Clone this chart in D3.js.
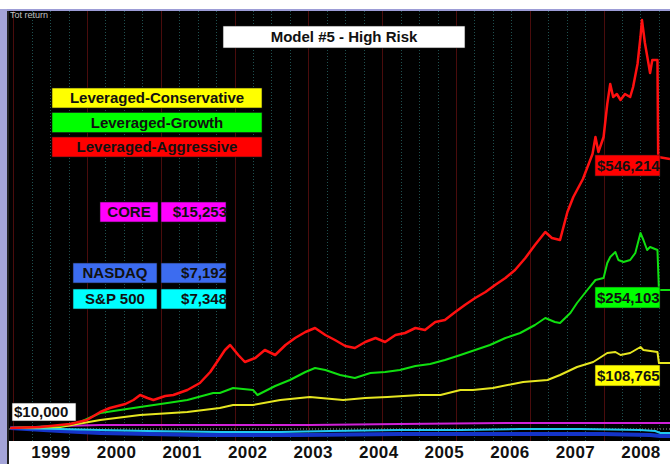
<!DOCTYPE html>
<html>
<head>
<meta charset="utf-8">
<script src="https://cdn.jsdelivr.net/npm/d3@7"></script>
<style>
html, body { margin: 0; padding: 0; background: #fff; }
svg { display: block; font-family: Arial, "Liberation Sans", sans-serif; }
</style>
</head>
<body>
<div id="chart"></div>
<script>
// decimal year, value in $k
const aggressive = [
    [1998.96, 16], [1999.37, 18], [1999.77, 24], [2000.00, 32], [2000.18, 48], [2000.31, 56],
    [2000.52, 64], [2000.63, 72], [2000.72, 82], [2000.82, 76], [2000.90, 72], [2001.06, 80],
    [2001.17, 82], [2001.36, 92], [2001.53, 106], [2001.67, 128], [2001.78, 152], [2001.87, 172],
    [2001.94, 182], [2002.05, 162], [2002.14, 148], [2002.28, 156], [2002.41, 172], [2002.55, 162],
    [2002.69, 182], [2002.82, 196], [2002.96, 208], [2003.09, 216], [2003.23, 202], [2003.36, 192],
    [2003.50, 180], [2003.63, 176], [2003.77, 188], [2003.91, 196], [2004.04, 188], [2004.18, 202],
    [2004.31, 206], [2004.45, 216], [2004.58, 212], [2004.72, 228], [2004.85, 232], [2004.99, 248],
    [2005.12, 262], [2005.26, 276], [2005.40, 288], [2005.53, 302], [2005.67, 316], [2005.80, 332],
    [2005.94, 356], [2006.07, 382], [2006.21, 408], [2006.30, 396], [2006.41, 392], [2006.51, 448],
    [2006.59, 478], [2006.72, 514], [2006.85, 564], [2006.89, 598], [2006.93, 568], [2007.00, 598],
    [2007.05, 664], [2007.09, 704], [2007.13, 678], [2007.18, 684], [2007.23, 672], [2007.29, 684],
    [2007.36, 678], [2007.40, 698], [2007.46, 744], [2007.50, 798], [2007.52, 832], [2007.56, 786],
    [2007.60, 752], [2007.63, 726], [2007.66, 752], [2007.73, 752], [2007.74, 558], [2007.90, 554]
];

const growth = [
    [1998.96, 16], [1999.64, 20], [1999.91, 28], [2000.18, 46], [2000.45, 52], [2000.72, 58],
    [2001.09, 66], [2001.36, 72], [2001.71, 86], [2001.80, 86], [2001.98, 96], [2002.25, 92],
    [2002.31, 82], [2002.55, 100], [2002.75, 112], [2002.96, 128], [2003.09, 136], [2003.23, 132],
    [2003.43, 122], [2003.63, 116], [2003.84, 126], [2004.04, 128], [2004.24, 132], [2004.45, 140],
    [2004.65, 144], [2004.85, 152], [2005.06, 162], [2005.26, 172], [2005.46, 182], [2005.67, 196],
    [2005.87, 206], [2006.07, 222], [2006.21, 236], [2006.34, 228], [2006.41, 226], [2006.55, 246],
    [2006.64, 266], [2006.78, 292], [2006.89, 312], [2007.00, 316], [2007.05, 346], [2007.09, 358],
    [2007.16, 368], [2007.20, 352], [2007.27, 348], [2007.36, 352], [2007.43, 366], [2007.50, 406],
    [2007.54, 392], [2007.59, 372], [2007.63, 378], [2007.73, 372], [2007.75, 292], [2007.90, 292]
];

const conservative = [
    [1998.96, 16], [1999.64, 18], [2000.18, 32], [2000.72, 42], [2001.36, 48], [2001.80, 56],
    [2001.98, 62], [2002.25, 62], [2002.62, 72], [2003.02, 78], [2003.47, 72], [2003.77, 76],
    [2004.07, 78], [2004.51, 82], [2004.79, 82], [2005.06, 92], [2005.23, 92], [2005.50, 96],
    [2005.91, 108], [2006.24, 112], [2006.41, 122], [2006.64, 138], [2006.86, 148], [2007.05, 166],
    [2007.16, 168], [2007.23, 162], [2007.36, 166], [2007.50, 178], [2007.54, 172], [2007.73, 168],
    [2007.75, 146], [2007.90, 146]
];

const core = [
    [1998.96, 16], [1999.64, 20], [2000.18, 22], [2001.53, 22], [2003.02, 22], [2004.24, 24],
    [2005.67, 26], [2007.00, 26], [2007.90, 26]
];

const sp500 = [
    [1998.96, 16], [1999.64, 14], [2000.18, 12], [2000.82, 10], [2001.80, 8], [2002.62, 8],
    [2003.30, 10], [2004.24, 12], [2005.06, 12], [2005.87, 14], [2006.68, 14], [2007.50, 12],
    [2007.70, 10], [2007.77, 6], [2007.90, 6]
];

const nasdaq = [
    [1998.96, 16], [1999.64, 10], [2000.18, 6], [2001.53, 2], [2002.89, 2], [2004.24, 4],
    [2005.67, 4], [2007.00, 4], [2007.63, 2], [2007.77, 0], [2007.90, 0]
];

const yearLabels = [1999, 2000, 2001, 2002, 2003, 2004, 2005, 2006, 2007, 2008];
const legendNames = ['Leveraged-Conservative', 'Leveraged-Growth', 'Leveraged-Aggressive'];
const indexNames = ['CORE', 'NASDAQ', 'S&P 500'];
const indexValues = ['$15,253', '$7,192', '$7,348'];
const endValues = ['$546,214', '$254,103', '$108,765'];

const width = 670, height = 464;
const plot = { left: 9, right: 670, top: 11, bottom: 441 };

const svg = d3.select('#chart')
    .append('svg')
    .attr('width', width)
    .attr('height', height);

// frame
svg.append('rect').attr('x', 0).attr('y', 0).attr('width', width).attr('height', height).attr('fill', '#fff');
svg.append('rect').attr('x', 0).attr('y', 9).attr('width', width).attr('height', 2).attr('fill', '#9c9cd6');
svg.append('rect').attr('x', 0).attr('y', 9).attr('width', 7).attr('height', height - 9).attr('fill', '#a4a4d8');
svg.append('rect').attr('x', 7).attr('y', 11).attr('width', 2).attr('height', height - 11).attr('fill', '#222');
svg.append('rect')
    .attr('x', plot.left).attr('y', plot.top)
    .attr('width', plot.right - plot.left).attr('height', plot.bottom - plot.top)
    .attr('fill', '#000');

svg.append('defs').append('clipPath').attr('id', 'clip')
    .append('rect')
    .attr('x', plot.left).attr('y', plot.top)
    .attr('width', plot.right - plot.left).attr('height', plot.bottom - plot.top);

const x = d3.scaleLinear().domain([1998.93, 2007.9]).range([8, 670]);
const y = d3.scaleLinear().domain([0, 840]).range([436, 16]);
const xLabel = d3.scaleLinear().domain([1999, 2008]).range([51, 641]);

const g = svg.append('g').attr('clip-path', 'url(#clip)');

// quarter grid (dotted) and year grid (dark red)
const quarters = d3.range(1999, 2008, 0.25).filter(q => q % 1 !== 0);
g.selectAll('line.q')
    .data(quarters)
    .enter()
    .append('line')
    .attr('class', 'q')
    .attr('x1', d => Math.round(x(d)) + 0.5)
    .attr('x2', d => Math.round(x(d)) + 0.5)
    .attr('y1', plot.top)
    .attr('y2', plot.bottom)
    .attr('stroke', '#1f5050')
    .attr('stroke-dasharray', '1,2');

g.selectAll('line.yr')
    .data(d3.range(1999, 2008))
    .enter()
    .append('line')
    .attr('class', 'yr')
    .attr('x1', d => Math.round(x(d)) + 0.5)
    .attr('x2', d => Math.round(x(d)) + 0.5)
    .attr('y1', plot.top)
    .attr('y2', plot.bottom)
    .attr('stroke', '#4a0c0c');

g.append('line')
    .attr('x1', plot.left).attr('x2', plot.right)
    .attr('y1', y(14)).attr('y2', y(14))
    .attr('stroke', '#9a9a9a')
    .attr('stroke-dasharray', '1,2');

const line = d3.line().x(d => x(d[0])).y(d => y(d[1]));

const series = [
    { data: nasdaq, color: '#1434c8', w: 4 },
    { data: sp500, color: '#22c8f0', w: 2 },
    { data: core, color: '#d020d8', w: 2 },
    { data: conservative, color: '#e6e620', w: 2 },
    { data: growth, color: '#10e010', w: 2 },
    { data: aggressive, color: '#ff1010', w: 2.5 }
];

g.selectAll('path.s')
    .data(series)
    .enter()
    .append('path')
    .attr('class', 's')
    .attr('d', d => line(d.data))
    .attr('fill', 'none')
    .attr('stroke', d => d.color)
    .attr('stroke-width', d => d.w)
    .attr('stroke-linejoin', 'round');

// labels
function box(x0, y0, w, h, fill, text, anchor, size) {
    svg.append('rect')
        .attr('x', x0).attr('y', y0).attr('width', w).attr('height', h)
        .attr('fill', fill)
        .attr('stroke', '#1a1a1a').attr('stroke-width', 0.6);
    const tx = anchor === 'middle' ? x0 + w / 2 : anchor === 'end' ? x0 + w + 1 : x0 + 2;
    svg.append('text')
        .attr('x', tx)
        .attr('y', y0 + h / 2 + (size || 15) * 0.36)
        .attr('text-anchor', anchor)
        .attr('font-size', size || 15)
        .attr('font-weight', 'bold')
        .attr('fill', '#111')
        .text(text);
}

svg.append('text')
    .attr('x', 10).attr('y', 18)
    .attr('font-size', 9)
    .attr('fill', '#c0c0c0')
    .text('Tot return');

box(223, 26, 242, 22, '#fff', 'Model #5 - High Risk', 'middle');

const legendColors = ['#ffff00', '#00ff00', '#ff0000'];
legendNames.forEach((name, i) => {
    box(52, 88 + i * 24.5, 210, 20, legendColors[i], name, 'middle');
});

const indexColors = ['#ff00ff', '#3c6cf0', '#00ffff'];
const indexRows = [
    { x0: 100, w: 58, top: 202 },
    { x0: 73, w: 84, top: 263 },
    { x0: 73, w: 84, top: 289 }
];
indexNames.forEach((name, i) => {
    const r = indexRows[i];
    box(r.x0, r.top, r.w, 20, indexColors[i], name, 'middle');
    box(161, r.top, 65, 20, indexColors[i], indexValues[i], 'end');
});

const endSeries = [aggressive, growth, conservative];
const endColors = ['#ff0000', '#00ff00', '#ffff00'];
const endOffsets = [-4, -3, 2];
endValues.forEach((v, i) => {
    const last = endSeries[i][endSeries[i].length - 1];
    box(595, y(last[1]) + endOffsets[i], 65, 21, endColors[i], v, 'start');
});

box(12, 403, 64, 18, '#fff', '$10,000', 'start');

svg.selectAll('text.year')
    .data(yearLabels)
    .enter()
    .append('text')
    .attr('class', 'year')
    .attr('x', d => xLabel(d))
    .attr('y', 458)
    .attr('text-anchor', 'middle')
    .attr('font-size', 17)
    .attr('font-weight', 'bold')
    .attr('letter-spacing', 0.4)
    .attr('fill', '#111')
    .text(d => d);
</script>
</body>
</html>
